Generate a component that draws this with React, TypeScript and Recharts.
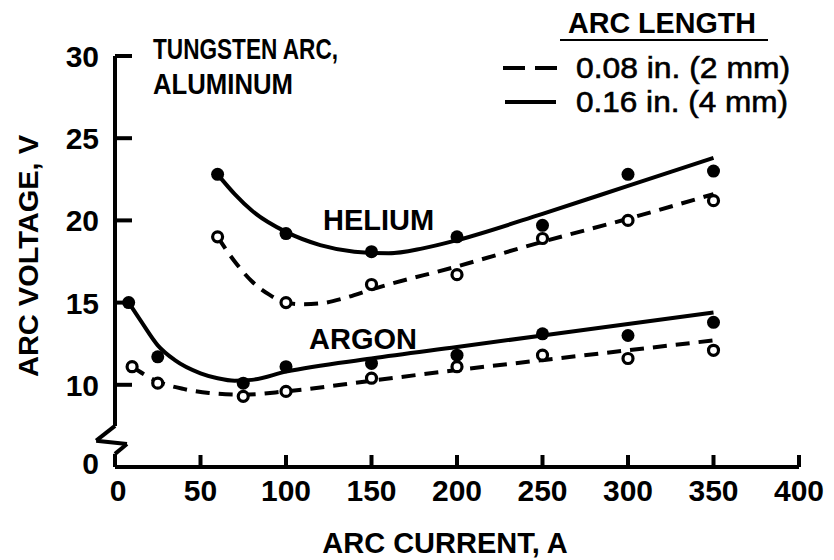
import { ComposedChart, Line, Scatter, XAxis, YAxis, ReferenceLine } from 'recharts';

// arc current (A) vs arc voltage (V); value 5 on the y scale is drawn as the broken "0"
const xTicks = [0, 50, 100, 150, 200, 250, 300, 350, 400];
const yTicks = [5, 10, 15, 20, 25, 30];

// measured points
const heliumLongPts = [
  { x: 60, y: 22.8 }, { x: 100, y: 19.2 }, { x: 150, y: 18.1 }, { x: 200, y: 19.0 },
  { x: 250, y: 19.7 }, { x: 300, y: 22.8 }, { x: 350, y: 23.0 },
];
const heliumShortPts = [
  { x: 60, y: 19.0 }, { x: 100, y: 15.0 }, { x: 150, y: 16.1 }, { x: 200, y: 16.7 },
  { x: 250, y: 18.9 }, { x: 300, y: 20.0 }, { x: 350, y: 21.2 },
];
const argonLongPts = [
  { x: 8, y: 15.0 }, { x: 25, y: 11.7 }, { x: 75, y: 10.1 }, { x: 100, y: 11.1 },
  { x: 150, y: 11.3 }, { x: 200, y: 11.8 }, { x: 250, y: 13.1 }, { x: 300, y: 13.0 },
  { x: 350, y: 13.8 },
];
const argonShortPts = [
  { x: 10, y: 11.1 }, { x: 25, y: 10.1 }, { x: 75, y: 9.3 }, { x: 100, y: 9.6 },
  { x: 150, y: 10.4 }, { x: 200, y: 11.1 }, { x: 250, y: 11.8 }, { x: 300, y: 11.6 },
  { x: 350, y: 12.1 },
];

// fitted curves
const heliumLongCurve = [
  { x: 60, y: 22.8 }, { x: 70, y: 21.6 }, { x: 80, y: 20.6 }, { x: 100, y: 19.3 },
  { x: 120, y: 18.5 }, { x: 140, y: 18.1 }, { x: 160, y: 18.0 }, { x: 180, y: 18.3 },
  { x: 200, y: 18.8 }, { x: 250, y: 20.4 }, { x: 300, y: 22.1 }, { x: 350, y: 23.8 },
];
const heliumShortCurve = [
  { x: 60, y: 19.0 }, { x: 70, y: 17.5 }, { x: 80, y: 16.3 }, { x: 90, y: 15.5 },
  { x: 100, y: 15.0 }, { x: 110, y: 14.9 }, { x: 120, y: 14.95 }, { x: 135, y: 15.3 },
  { x: 150, y: 15.8 }, { x: 200, y: 17.2 }, { x: 250, y: 18.7 }, { x: 300, y: 20.1 },
  { x: 350, y: 21.6 },
];
const argonLongCurve = [
  { x: 8, y: 15.0 }, { x: 15, y: 13.9 }, { x: 25, y: 12.4 }, { x: 35, y: 11.5 },
  { x: 50, y: 10.7 }, { x: 60, y: 10.4 }, { x: 70, y: 10.25 }, { x: 80, y: 10.3 },
  { x: 100, y: 10.8 }, { x: 150, y: 11.6 }, { x: 200, y: 12.3 }, { x: 250, y: 13.0 },
  { x: 300, y: 13.7 }, { x: 350, y: 14.4 },
];
const argonShortCurve = [
  { x: 10, y: 11.1 }, { x: 25, y: 10.2 }, { x: 40, y: 9.75 }, { x: 55, y: 9.5 },
  { x: 75, y: 9.4 }, { x: 100, y: 9.6 }, { x: 150, y: 10.25 }, { x: 200, y: 10.9 },
  { x: 250, y: 11.5 }, { x: 300, y: 12.1 }, { x: 350, y: 12.7 },
];

// y axis drawn in pieces so it can show the break
const yAxisPath = [
  [0, 30], [0, 7.5], [-11, 6.6], [7, 6.4], [0, 5.8], [0, 5],
];

const FONT = '"Liberation Sans", Arial, sans-serif';
const INK = '#000';

const XTick = ({ x, y, payload }: any) => (
  <g>
    {payload.value !== 0 && (
      <line x1={x} x2={x} y1={y} y2={y - 12} stroke={INK} strokeWidth={4} />
    )}
    <text x={x + (payload.value === 0 ? 3 : 0)} y={y + 34} textAnchor="middle"
      fontFamily={FONT} fontWeight="bold" fontSize={30} fill={INK}>
      {payload.value}
    </text>
  </g>
);

const YTick = ({ x, y, payload }: any) => (
  <g>
    {payload.value !== 5 && (
      <line x1={x} x2={x + 17} y1={y} y2={y} stroke={INK} strokeWidth={4} />
    )}
    <text x={x - 16} y={y + (payload.value === 5 ? 7 : 11)} textAnchor="end"
      fontFamily={FONT} fontWeight="bold" fontSize={30} fill={INK}>
      {payload.value === 5 ? 0 : payload.value}
    </text>
  </g>
);

const Filled = (p: any) => <circle cx={p.cx} cy={p.cy} r={6.5} fill={INK} />;
const Open = (p: any) => (
  <circle cx={p.cx} cy={p.cy} r={5} fill="#fff" stroke={INK} strokeWidth={3.2} />
);

const txt = { fontFamily: FONT, fontWeight: 'bold' as const, fill: INK };

export default function App() {
  return (
    <div style={{ position: 'absolute', left: 0, top: 0, width: 834, height: 560, background: '#fff' }}>
      <ComposedChart width={834} height={560} margin={{ top: 56, right: 35, bottom: 0, left: 0 }}>
        <XAxis type="number" dataKey="x" domain={[0, 400]} ticks={xTicks} height={93}
          tickSize={0} tickMargin={0} tick={<XTick />}
          axisLine={{ stroke: INK, strokeWidth: 4 }} allowDataOverflow />
        <YAxis type="number" domain={[5, 30]} ticks={yTicks} width={115}
          tickSize={0} tickMargin={0} tick={<YTick />} axisLine={false} allowDataOverflow />
        {yAxisPath.slice(1).map((pt, i) => (
          <ReferenceLine key={i} ifOverflow="visible" stroke={INK} strokeWidth={4}
            segment={[{ x: yAxisPath[i][0], y: yAxisPath[i][1] }, { x: pt[0], y: pt[1] }]} />
        ))}
        <Line data={heliumLongCurve} dataKey="y" type="monotone" stroke={INK} strokeWidth={4}
          dot={false} isAnimationActive={false} />
        <Line data={heliumShortCurve} dataKey="y" type="monotone" stroke={INK} strokeWidth={4}
          strokeDasharray="14 9" dot={false} isAnimationActive={false} />
        <Line data={argonLongCurve} dataKey="y" type="monotone" stroke={INK} strokeWidth={4}
          dot={false} isAnimationActive={false} />
        <Line data={argonShortCurve} dataKey="y" type="monotone" stroke={INK} strokeWidth={4}
          strokeDasharray="14 9" dot={false} isAnimationActive={false} />
        <Scatter data={heliumLongPts} dataKey="y" shape={<Filled />} isAnimationActive={false} />
        <Scatter data={argonLongPts} dataKey="y" shape={<Filled />} isAnimationActive={false} />
        <Scatter data={heliumShortPts} dataKey="y" shape={<Open />} isAnimationActive={false} />
        <Scatter data={argonShortPts} dataKey="y" shape={<Open />} isAnimationActive={false} />
      </ComposedChart>

      <svg width={834} height={560} style={{ position: 'absolute', left: 0, top: 0, pointerEvents: 'none' }}>
        <text x={153} y={59} fontSize={29} textLength={185} lengthAdjust="spacingAndGlyphs" {...txt}>
          TUNGSTEN ARC,
        </text>
        <text x={153} y={94} fontSize={29} textLength={140} lengthAdjust="spacingAndGlyphs" {...txt}>
          ALUMINUM
        </text>

        <text x={568} y={33} fontSize={29} textLength={188} lengthAdjust="spacingAndGlyphs" {...txt}>
          ARC LENGTH
        </text>
        <line x1={560} x2={768} y1={40} y2={40} stroke={INK} strokeWidth={2} />
        <line x1={503} x2={558} y1={68} y2={68} stroke={INK} strokeWidth={4} strokeDasharray="22 10" />
        <text x={576} y={78} fontSize={29} fontFamily={FONT} fill={INK} stroke={INK} strokeWidth={0.6}
          textLength={214} lengthAdjust="spacingAndGlyphs">0.08 in. (2 mm)</text>
        <line x1={505} x2={556} y1={102} y2={102} stroke={INK} strokeWidth={4} />
        <text x={576} y={112} fontSize={29} fontFamily={FONT} fill={INK} stroke={INK} strokeWidth={0.6}
          textLength={212} lengthAdjust="spacingAndGlyphs">0.16 in. (4 mm)</text>

        <text x={323} y={230} fontSize={29} {...txt}>HELIUM</text>
        <text x={309} y={349} fontSize={29} {...txt}>ARGON</text>

        <text x={28} y={256} fontSize={28} textAnchor="middle" dominantBaseline="central"
          textLength={242} lengthAdjust="spacingAndGlyphs"
          transform="rotate(-90 28 256)" {...txt}>ARC VOLTAGE, V</text>
        <text x={445} y={553} fontSize={29} textAnchor="middle" {...txt}>ARC CURRENT, A</text>
      </svg>
    </div>
  );
}
